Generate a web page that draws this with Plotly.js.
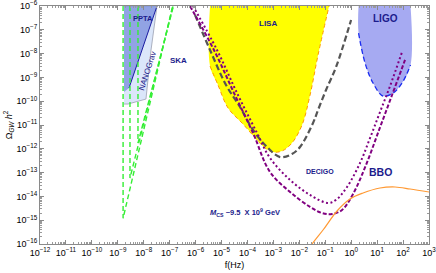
<!DOCTYPE html>
<html><head><meta charset="utf-8">
<script src="https://cdn.plot.ly/plotly-3.0.1.min.js"></script>
<style>html,body{margin:0;padding:0;background:#fff}#chart{width:436px;height:273px}</style>
</head><body><div id="chart"></div>
<script>
// ---- data ----
const xTickVals = [1e-12,1e-11,1e-10,1e-9,1e-8,1e-7,1e-6,1e-5,1e-4,1e-3,1e-2,1e-1,1,10,100,1000];
const xTickText = ["10<sup>−12</sup>","10<sup>−11</sup>","10<sup>−10</sup>","10<sup>−9</sup>","10<sup>−8</sup>","10<sup>−7</sup>","10<sup>−6</sup>","10<sup>−5</sup>","10<sup>−4</sup>","10<sup>−3</sup>","10<sup>−2</sup>","10<sup>−1</sup>","10<sup>0</sup>","10<sup>1</sup>","10<sup>2</sup>","10<sup>3</sup>"];
const yTickVals = [1e-16,1e-15,1e-14,1e-13,1e-12,1e-11,1e-10,1e-9,1e-8,1e-7,1e-6];
const yTickText = ["10<sup>−16</sup>","10<sup>−15</sup>","10<sup>−14</sup>","10<sup>−13</sup>","10<sup>−12</sup>","10<sup>−11</sup>","10<sup>−10</sup>","10<sup>−9</sup>","10<sup>−8</sup>","10<sup>−7</sup>","10<sup>−6</sup>"];

const ska1X = [1.6e-9, 1.6e-9, 1.3e-7],  ska1Y = [1e-6, 1.2e-15, 1e-6];
const ska2X = [2.95e-9, 2.95e-9, 1.35e-7], ska2Y = [1e-6, 5.9e-14, 1e-6];
const ska3X = [6.0e-9, 6.0e-9, 1.4e-7],  ska3Y = [1e-6, 1.74e-12, 1e-6];

const nanoX = [1.73e-9, 3.25e-8, 1.91e-8, 1.22e-8, 2.48e-9, 1.73e-9];
const nanoY = [1e-6, 1e-6, 1.41e-8, 1.23e-10, 7.6e-11, 7.6e-11];
const pptaX = [1.73e-9, 3.25e-8, 2.71e-9, 1.73e-9];
const pptaY = [1e-6, 1e-6, 3.6e-10, 2.45e-10];
const pptaEdgeX = [3.25e-8, 2.71e-9], pptaEdgeY = [1e-6, 3.6e-10];

const lisaX = [3.6e-6, 3.6e-6, 7.3e-6, 1.78e-5, 6.7e-5, 2.34e-4, 4.75e-4, 9.7e-4, 2.15e-3, 5.2e-3, 1.27e-2, 2.59e-2, 5.26e-2, 0.14];
const lisaY = [1e-6, 3.0e-9, 4.8e-10, 5.2e-11, 1.1e-11, 2.34e-12, 1.08e-12, 7.3e-13, 8.1e-13, 1.75e-12, 1.0e-11, 1.82e-10, 8.7e-9, 1e-6];

const ligoX = [1.92, 1.92, 3.42, 6.95, 16.9, 41.1, 91.4, 194, 194];
const ligoY = [1e-6, 7.3e-8, 4.03e-9, 5.8e-10, 1.65e-10, 2.2e-10, 5.8e-10, 3.32e-9, 1e-6];

const grayX = [9.5e-7, 3.6e-6, 1.49e-5, 5.16e-5, 1.64e-4, 5.67e-4, 1.80e-3, 5.2e-3, 1.06e-2, 3.37e-2, 5.26e-2, 0.107, 0.26, 0.99];
const grayY = [4.2e-7, 1.42e-8, 4.8e-10, 5.7e-11, 6.2e-12, 1.19e-12, 4.5e-13, 6.05e-13, 1.19e-12, 1.21e-11, 4.27e-11, 2.96e-10, 2.73e-9, 2.58e-7];

const dotX = [7.9e-7, 6.7e-6, 3.95e-5, 2.34e-4, 7.4e-4, 4.4e-3, 2.59e-2, 0.128, 0.26, 0.69, 2.19, 5.33, 12.9, 31.5, 91.4];
const dotY = [1e-6, 1.42e-8, 2.2e-10, 4.6e-12, 4.1e-13, 4.9e-14, 1.15e-14, 5.3e-15, 7.1e-15, 2.48e-14, 2.53e-13, 2.84e-12, 3.5e-11, 4.35e-10, 1.17e-8];

const dashX = [6.1e-7, 5.1e-6, 3.03e-5, 1.64e-4, 7.4e-4, 4.4e-3, 2.59e-2, 7.5e-2, 0.182, 0.444, 1.18, 3.73, 11.9, 37.6, 119];
const dashY = [1e-6, 1.42e-8, 2.2e-10, 4.6e-12, 1.06e-13, 1.53e-14, 3.6e-15, 2.0e-15, 1.82e-15, 2.7e-15, 1.26e-14, 2.1e-13, 6.2e-12, 1.82e-10, 5.4e-9];

const csX = [1.06e-2, 3.09e-2, 8.2e-2, 0.284, 0.90, 2.86, 12.9, 49, 186, 1000];
const csY = [1.75e-17, 1e-16, 3.87e-16, 2.44e-15, 7.8e-15, 1.39e-14, 2.25e-14, 2.48e-14, 2.05e-14, 1.53e-14];

// ---- traces ----
const green = '#33ee33', purple = '#800080', navy = '#1c1c8c';
function ln(x, y, color, width, dash, shape) {
  return {x: x, y: y, type: 'scatter', mode: 'lines', hoverinfo: 'skip',
          line: {color: color, width: width, dash: dash || 'solid', shape: shape || 'linear'}};
}
const traces = [
  {x: nanoX, y: nanoY, type: 'scatter', mode: 'lines', fill: 'toself', fillcolor: '#dbe6fa',
   line: {color: '#9aa0b0', width: 0.8}},
  {x: pptaX, y: pptaY, type: 'scatter', mode: 'lines', fill: 'toself', fillcolor: 'rgba(120,140,220,0.75)',
   line: {color: 'rgba(0,0,0,0)', width: 0}},
  ln(pptaEdgeX, pptaEdgeY, '#1a1aa0', 1),
  {x: lisaX, y: lisaY, type: 'scatter', mode: 'lines', fill: 'toself', fillcolor: '#ffff00',
   line: {color: 'rgba(0,0,0,0)', width: 0, shape: 'spline'}},
  ln(lisaX.slice(1), lisaY.slice(1), '#ff9900', 1, '4px,3px', 'spline'),
  {x: ligoX, y: ligoY, type: 'scatter', mode: 'lines', fill: 'toself', fillcolor: '#a6aaf2',
   line: {color: 'rgba(0,0,0,0)', width: 0, shape: 'spline'}},
  ln(ligoX.slice(1, 8), ligoY.slice(1, 8), '#1a2cf0', 1.3, '5px,3px', 'spline'),
  ln(ska1X, ska1Y, green, 1.4, '5px,3px'),
  ln(ska2X, ska2Y, green, 1.4, '5px,3px'),
  ln(ska3X, ska3Y, green, 1.4, '5px,3px'),
  ln(grayX, grayY, '#555555', 2.2, '6px,3px', 'spline'),
  ln(dotX, dotY, purple, 2, '2px,2.5px', 'spline'),
  ln(dashX, dashY, purple, 2, '4px,2px', 'spline'),
  ln(csX, csY, '#ff9933', 1.2, 'solid', 'spline')
];

const tf = {family: 'Liberation Sans, Arial, sans-serif', size: 9, color: '#000'};
function ann(text, lx, ly, size, extra) {
  return Object.assign({text: text, x: lx, y: ly, xref: 'x', yref: 'y', showarrow: false,
    font: {family: 'Liberation Sans, Arial, sans-serif', size: size, color: navy}}, extra || {});
}
const axisCommon = {
  type: 'log', showgrid: false, zeroline: false, showline: true, linecolor: '#8a8a8a', linewidth: 1,
  mirror: 'allticks', ticks: 'inside', ticklen: 4, tickcolor: '#8a8a8a', tickwidth: 1,
  tickfont: tf, tickmode: 'array', ticklabeloverflow: 'allow',
  minor: {ticks: 'inside', ticklen: 2, tickcolor: '#9a9a9a', dtick: 'D1', showgrid: false}
};
const layout = {
  width: 436, height: 273, margin: {l: 40, r: 7, t: 6, b: 29},
  paper_bgcolor: '#fff', plot_bgcolor: '#fff', showlegend: false,
  xaxis: Object.assign({}, axisCommon, {range: [-12, 3], tickvals: xTickVals, ticktext: xTickText,
    title: {text: 'f(Hz)', font: tf, standoff: 4}}),
  yaxis: Object.assign({}, axisCommon, {range: [-16, -6], tickvals: yTickVals, ticktext: yTickText,
    title: {text: 'Ω<sub><i>GW</i></sub> <i>h</i><sup>2</sup>', font: tf, standoff: 2}}),
  annotations: [
    ann('<b>PPTA</b>', -8.016, -6.517, 7.5),
    ann('NANOGrav', -7.874, -8.731, 8, {textangle: -72}),
    ann('<b>SKA</b>', -6.666, -8.269, 8),
    ann('<b>LISA</b>', -3.194, -6.756, 8),
    ann('<b>LIGO</b>', 1.305, -6.517, 10),
    ann('<b>DECIGO</b>', -1.202, -12.962, 7),
    ann('<b>BBO</b>', 1.112, -12.962, 10.5),
    ann('<b><i>M</i><sub>CS</sub> ~9.5  X 10<sup>9</sup> GeV</b>', -4.094, -14.685, 7.5)
  ]
};
Plotly.newPlot('chart', traces, layout, {staticPlot: true, displayModeBar: false});
</script></body></html>
